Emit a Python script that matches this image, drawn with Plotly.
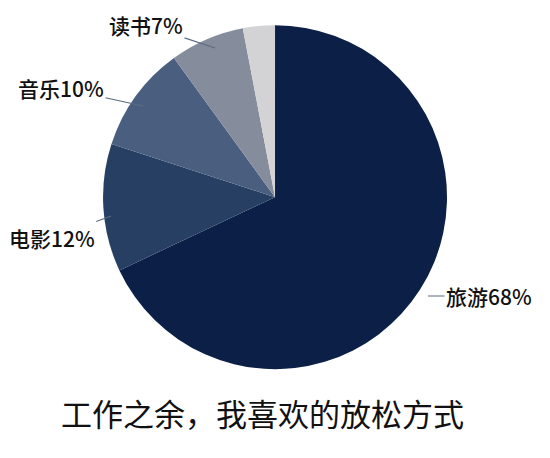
import plotly.graph_objects as go

# 数据
labels = ["旅游", "电影", "音乐", "读书", "其他"]
values = [68, 12, 10, 7, 3]
colors = ["#0c1f47", "#263f63", "#4a5f80", "#858c9c", "#d3d3d6"]
show_label = [True, True, True, True, False]

title_text = "工作之余，我喜欢的放松方式"

fig = go.Figure()
fig.add_trace(
    go.Pie(
        labels=labels,
        values=values,
        sort=False,
        direction="clockwise",
        rotation=0,
        marker=dict(colors=colors, line=dict(width=0)),
        textinfo="none",
        hoverinfo="label+value",
        showlegend=False,
        domain=dict(x=[0.1728, 0.7982], y=[0.2115, 0.9625]),
    )
)

# 标签与引导线 (文字位置与箭头尖端)
label_pos = {
    "旅游": dict(x=0.7636, y=0.3712, ax=61, ay=0),
    "电影": dict(x=0.1873, y=0.5459, ax=-59, ay=22),
    "音乐": dict(x=0.2455, y=0.786, ax=-82, ay=-18),
    "读书": dict(x=0.3764, y=0.9127, ax=-69, ay=-23),
}
for lab, val, show in zip(labels, values, show_label):
    if not show:
        continue
    p = label_pos[lab]
    fig.add_annotation(
        xref="paper", yref="paper",
        x=p["x"], y=p["y"], ax=p["ax"], ay=p["ay"],
        text=f"{lab}{val}%",
        showarrow=True, arrowhead=0, arrowwidth=1.2, arrowcolor="#5d6b80",
        font=dict(size=21, color="#111111", family="Noto Sans CJK SC", weight=500),
    )

fig.add_annotation(
    xref="paper", yref="paper", x=0.462, y=0.0633,
    text=title_text, showarrow=False,
    font=dict(size=31, color="#111111", family="Noto Sans CJK SC"),
)

fig.update_layout(
    width=550, height=458,
    margin=dict(l=0, r=0, t=0, b=0),
    paper_bgcolor="white",
    plot_bgcolor="white",
)

fig.write_html("out.html")
